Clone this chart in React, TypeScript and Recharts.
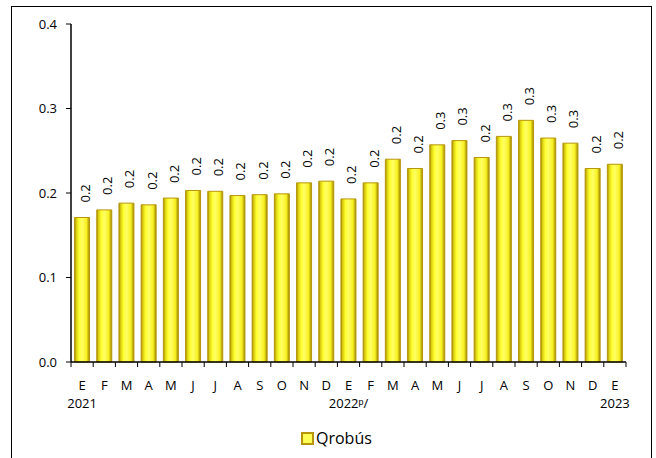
import React from "react";
import { BarChart, Bar, XAxis, YAxis, Legend, LabelList } from "recharts";

const months = ["E", "F", "M", "A", "M", "J", "J", "A", "S", "O", "N", "D", "E", "F", "M", "A", "M", "J", "J", "A", "S", "O", "N", "D", "E"];
const years = ["2021", "", "", "", "", "", "", "", "", "", "", "", "2022ᵖ/", "", "", "", "", "", "", "", "", "", "", "", "2023"];
const qrobus = [0.171, 0.18, 0.188, 0.186, 0.194, 0.203, 0.202, 0.197, 0.198, 0.199, 0.212, 0.214, 0.193, 0.212, 0.24, 0.229, 0.257, 0.262, 0.242, 0.267, 0.286, 0.265, 0.259, 0.229, 0.234];
const yTicks = [0, 0.1, 0.2, 0.3, 0.4];

const data = months.map((m, i) => ({ key: i, month: m, year: years[i], value: qrobus[i] }));

const W = 656;
const H = 458;
const M = { top: 24, right: 30, left: 11, bottom: 10 };
const Y_W = 60;
const PLOT_W = W - M.left - M.right - Y_W;
const BAND = PLOT_W / data.length;
const FONT = "'Open Sans', sans-serif";

const XTick = (props: any) => {
  const { x, y, payload, index } = props;
  const d = data[payload.value] || data[index];
  const left = x - BAND / 2;
  const isLast = index === data.length - 1;
  return (
    <g>
      <line x1={left} y1={y} x2={left} y2={y + 5} stroke="#000" strokeWidth={1} />
      {isLast && <line x1={x + BAND / 2} y1={y} x2={x + BAND / 2} y2={y + 5} stroke="#000" strokeWidth={1} />}
      <text x={x} y={y + 28} textAnchor="middle" fontSize={13} fontFamily={FONT} fill="#000">
        {d.month}
      </text>
      {d.year && (
        <text x={x} y={y + 46} textAnchor="middle" fontSize={13} fontFamily={FONT} fill="#000">
          {d.year}
        </text>
      )}
    </g>
  );
};

const ValueLabel = (props: any) => {
  const { x, y, width, value } = props;
  const cx = x + width / 2 + 3;
  const cy = y - 15;
  return (
    <text
      x={cx}
      y={cy}
      transform={`rotate(-90 ${cx} ${cy})`}
      textAnchor="start"
      dominantBaseline="central"
      fontSize={13}
      fontFamily={FONT}
      fill="#000"
    >
      {Number(value).toFixed(1)}
    </text>
  );
};

const LegendContent = () => (
  <div style={{ position: "relative", height: 20, width: "100%" }}>
    <div style={{ position: "absolute", left: 290, top: 0, height: 20, display: "flex", alignItems: "center" }}>
      <div style={{ width: 9, height: 9, background: "#FFFF55", border: "2px solid #B8960C", marginRight: 2 }} />
      <span style={{ fontFamily: FONT, fontSize: 16, color: "#000", lineHeight: "20px" }}>Qrobús</span>
    </div>
  </div>
);

export default function App() {
  return (
    <div style={{ position: "absolute", left: 0, top: 0, width: W, height: H, overflow: "hidden", background: "#fff" }}>
      <div
        style={{
          position: "absolute",
          left: 11,
          top: 6,
          width: 641,
          height: 480,
          border: "1px solid #000",
          boxSizing: "border-box",
        }}
      />
      <div style={{ position: "absolute", left: 0, top: 0 }}>
        <BarChart width={W} height={H} data={data} margin={M} barCategoryGap="16%">
          <defs>
            <linearGradient id="barGrad" x1="0" y1="0" x2="1" y2="0">
              <stop offset="0%" stopColor="#A08C00" />
              <stop offset="12%" stopColor="#DCD010" />
              <stop offset="30%" stopColor="#FFFF30" />
              <stop offset="50%" stopColor="#FFFF66" />
              <stop offset="80%" stopColor="#F8F020" />
              <stop offset="100%" stopColor="#9C8800" />
            </linearGradient>
          </defs>
          <XAxis
            dataKey="key"
            type="category"
            interval={0}
            tickLine={false}
            tickSize={0}
            tickMargin={0}
            height={66}
            axisLine={{ stroke: "#000", strokeWidth: 1.5 }}
            tick={<XTick />}
          />
          <YAxis
            width={Y_W}
            domain={[0, 0.4]}
            ticks={yTicks}
            interval={0}
            tickFormatter={(v: number) => v.toFixed(1)}
            tickSize={5}
            tickMargin={9}
            axisLine={{ stroke: "#000", strokeWidth: 1.5 }}
            tickLine={{ stroke: "#000" }}
            tick={{ fontSize: 13, fontFamily: FONT, fill: "#000" }}
          />
          <Legend verticalAlign="bottom" content={<LegendContent />} />
          <Bar dataKey="value" name="Qrobús" fill="url(#barGrad)" stroke="#B8960C" strokeWidth={1} isAnimationActive={false}>
            <LabelList dataKey="value" content={<ValueLabel />} />
          </Bar>
        </BarChart>
      </div>
    </div>
  );
}
